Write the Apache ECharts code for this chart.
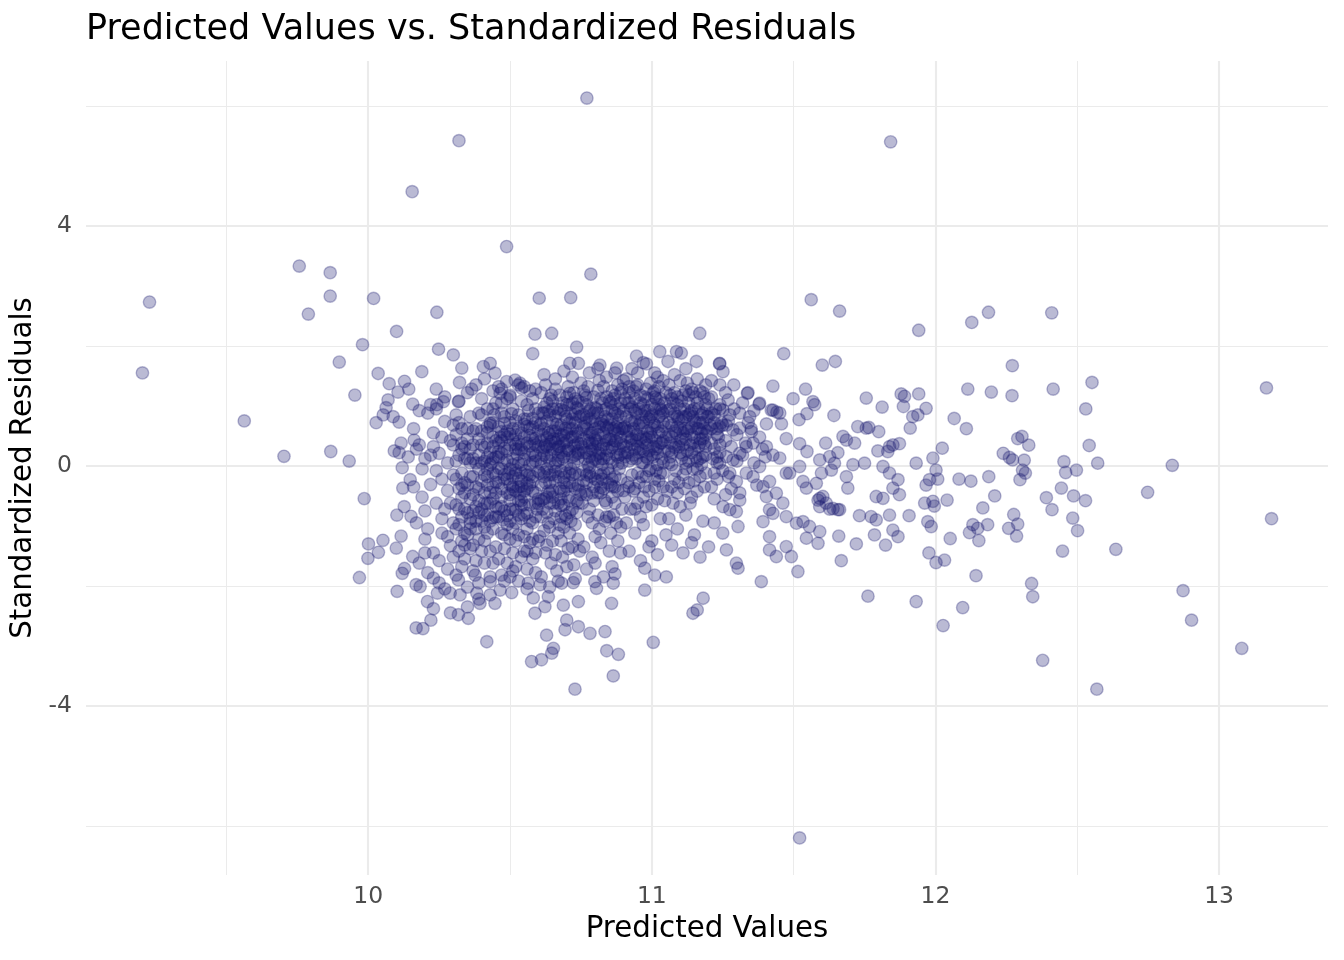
<!DOCTYPE html>
<html>
<head>
<meta charset="utf-8">
<script src="https://cdn.jsdelivr.net/npm/echarts@6/dist/echarts.min.js"></script>
<style>html,body{margin:0;padding:0;background:#fff;}#chart{width:1344px;height:960px;}</style>
</head>
<body>
<div id="chart"></div>
<script>
// ---- tick values ----
const xMajorTicks = [10, 11, 12, 13];
const xMinorTicks = [9.5, 10.5, 11.5, 12.5];
const yMajorTicks = [-4, 0, 4];
const yMinorTicks = [-6, -2, 2, 6];

// ---- data: [predicted value, standardized residual] ----
const farPoints = [[9.204,1.55],[9.229,2.73],[9.563,0.75],[9.703,0.16],[9.757,3.33],[9.789,2.53],[9.866,3.22],[9.866,2.83],[9.868,0.24],[9.898,1.73],[9.933,0.08],[9.953,1.18],[9.969,-1.86],[9.986,-0.545],[9.98,2.02],[10.001,-1.30],[9.999,-1.54],[10.019,2.79],[10.32,5.42],[10.771,6.13],[10.155,4.57],[10.488,3.655],[10.785,3.195],[10.603,2.795],[10.714,2.805],[11.842,5.40],[11.521,-6.2],[11.562,2.77],[11.662,2.58],[11.941,2.26]];

const leftFringe = [[10.10,2.24],[10.035,1.54],[10.074,1.37],[10.128,1.41],[10.105,1.23],[10.143,1.28],[10.07,1.1],[10.063,0.97],[10.053,0.85],[10.088,0.82],[10.109,0.73],[10.028,0.72],[10.157,1.03],[10.116,0.38],[10.092,0.25],[10.109,0.22],[10.141,0.15],[10.12,-0.03],[10.162,0.43],[10.148,-0.23],[10.122,-0.37],[10.127,-0.68],[10.101,-0.82],[10.151,-0.84],[10.116,-1.17],[10.052,-1.24],[10.036,-1.44],[10.099,-1.37],[10.157,-1.51],[10.128,-1.71],[10.12,-1.79],[10.102,-2.09],[10.169,-1.98],[10.169,-2.7]];

const upperTail = [[10.242,2.56],[10.588,2.195],[10.647,2.21],[11.169,2.21],[10.248,1.945],[10.3,1.85],[10.58,1.87],[10.735,1.98],[10.946,1.83],[11.028,1.905],[11.087,1.905],[11.104,1.88],[11.157,1.74],[11.239,1.70],[11.057,1.74],[10.33,1.63],[10.406,1.655],[10.43,1.71],[10.711,1.71],[10.741,1.71],[10.817,1.68],[10.876,1.63],[10.981,1.70],[10.189,1.57],[10.447,1.545],[10.365,1.28],[10.322,1.39],[10.488,1.405],[10.518,1.43],[10.535,1.38],[10.541,1.295],[10.465,1.21],[10.5,1.155],[10.242,1.02],[10.265,1.07],[10.318,1.07]];

const lowerTail = [[10.193,-2.71],[10.221,-2.57],[10.209,-2.26],[10.183,-2.01],[10.244,-2.12],[10.23,-1.87],[10.289,-2.12],[10.324,-2.15],[10.318,-2.48],[10.353,-2.54],[10.383,-2.12],[10.394,-2.29],[10.447,-2.29],[10.418,-2.93],[10.318,-1.90],[10.377,-1.82],[10.43,-1.93],[10.465,-2.07],[10.506,-2.11],[10.564,-1.955],[10.606,-1.98],[10.582,-2.2],[10.588,-2.455],[10.623,-2.345],[10.635,-2.18],[10.688,-2.32],[10.741,-2.26],[10.629,-2.82],[10.653,-3.04],[10.647,-3.12],[10.576,-3.26],[10.611,-3.23],[10.7,-2.57],[10.694,-2.73],[10.741,-2.68],[10.782,-2.79],[10.835,-2.76],[10.841,-3.08],[10.882,-3.14],[10.864,-3.5],[10.729,-3.72],[10.682,-1.955],[10.723,-1.945],[10.805,-2.04],[10.799,-1.93],[10.858,-2.29],[10.864,-1.955],[10.87,-1.8],[10.975,-2.07],[11.005,-2.94],[11.145,-2.455],[11.16,-2.40],[11.181,-2.205],[11.01,-1.82],[11.051,-1.85],[10.975,-1.705]];

const bandA = [[10.16,0.62],[10.18,0.35],[10.21,0.88],[10.23,0.55],[10.25,0.21],[10.27,0.74],[10.19,-0.05],[10.22,-0.31],[10.24,-0.62],[10.26,-0.88],[10.28,-0.41],[10.17,-0.95],[10.2,-1.22],[10.23,-1.45],[10.26,-1.12],[10.29,-1.33],[10.18,-1.62],[10.21,-1.78],[10.25,-1.95],[10.28,-1.72],[10.3,-0.15],[10.29,0.42],[10.27,1.15],[10.24,1.28],[10.2,0.12],[10.22,1.02],[10.26,-0.22],[10.28,0.05],[10.17,0.28],[10.19,-0.52],[10.25,-1.58],[10.27,-2.05],[10.23,-2.38],[10.29,-2.45],[10.2,-0.75],[10.24,0.95],[10.3,0.68],[10.3,-0.95],[10.28,-1.18],[10.22,0.18],[10.26,0.48],[10.21,-1.05],[10.18,0.92],[10.29,-0.62],[10.24,-0.08],[10.3,-1.52],[10.27,-0.72],[10.23,0.32],[10.2,-1.45],[10.16,-0.35]];

const bandB = [[10.31,0.52],[10.32,0.18],[10.33,-0.12],[10.34,-0.45],[10.35,-0.78],[10.36,-1.05],[10.37,-1.32],[10.38,-0.92],[10.39,-0.58],[10.4,-0.25],[10.41,0.08],[10.42,0.38],[10.43,0.71],[10.44,0.95],[10.31,-0.65],[10.32,-0.98],[10.33,-1.25],[10.34,-1.55],[10.35,-0.32],[10.36,0.05],[10.37,0.35],[10.38,0.62],[10.39,0.88],[10.4,1.12],[10.41,-0.82],[10.42,-1.12],[10.43,-1.42],[10.44,-0.35],[10.45,-0.68],[10.31,0.85],[10.32,1.08],[10.33,0.38],[10.34,0.12],[10.35,0.62],[10.36,-0.55],[10.37,-0.18],[10.38,-1.58],[10.39,-1.22],[10.4,-0.72],[10.41,-0.45],[10.42,-0.05],[10.43,0.22],[10.44,0.48],[10.45,0.15],[10.31,-1.82],[10.33,-1.68],[10.35,-2.02],[10.37,-1.75],[10.39,-1.95],[10.41,-1.62],[10.43,-1.85],[10.45,-1.35],[10.32,-0.38],[10.34,-0.72],[10.36,-0.95],[10.38,-0.35],[10.4,0.35],[10.42,0.65],[10.44,-0.12],[10.35,1.22],[10.38,1.35],[10.41,1.45],[10.44,1.25],[10.43,-0.92],[10.41,-1.25],[10.39,-0.05],[10.37,-0.75],[10.35,-1.15],[10.33,-0.52],[10.31,-0.22],[10.34,0.32],[10.36,0.82],[10.4,-1.42],[10.42,-0.62],[10.44,-1.05],[10.45,-0.45],[10.43,0.02],[10.39,0.18],[10.38,-1.05],[10.36,-1.38],[10.34,-1.12],[10.32,-1.42],[10.42,0.95],[10.44,0.72],[10.4,0.58],[10.45,1.05],[10.39,-2.22],[10.35,-2.35],[10.43,-2.15],[10.41,-0.15],[10.37,0.12],[10.33,0.62],[10.45,-0.85],[10.44,-1.62],[10.42,-0.32],[10.4,-0.92]];

const bandC = [[10.46,1.32],[10.47,1.05],[10.48,0.82],[10.49,0.58],[10.5,0.35],[10.51,0.12],[10.52,-0.12],[10.53,-0.35],[10.54,-0.58],[10.55,-0.82],[10.56,-1.05],[10.57,-1.28],[10.58,-0.95],[10.59,-0.62],[10.46,-0.28],[10.47,-0.52],[10.48,-0.75],[10.49,-0.98],[10.5,-1.22],[10.51,-1.45],[10.52,-1.68],[10.53,-1.15],[10.54,-0.88],[10.55,-0.42],[10.56,-0.15],[10.57,0.18],[10.58,0.45],[10.59,0.72],[10.46,0.15],[10.47,0.42],[10.48,0.05],[10.49,-0.22],[10.5,-0.48],[10.51,-0.72],[10.52,-0.95],[10.53,0.28],[10.54,0.55],[10.55,0.78],[10.56,1.02],[10.57,1.25],[10.58,1.12],[10.59,0.95],[10.46,-0.85],[10.47,-1.12],[10.48,-1.38],[10.49,-1.62],[10.5,-1.85],[10.51,-0.35],[10.52,0.52],[10.53,0.85],[10.54,1.08],[10.55,0.22],[10.56,-0.38],[10.57,-0.65],[10.58,-0.18],[10.59,0.08],[10.46,0.65],[10.47,0.88],[10.48,-0.15],[10.49,0.25],[10.5,0.72],[10.51,0.95],[10.52,0.28],[10.53,-0.58],[10.54,-0.25],[10.55,-1.18],[10.56,-1.42],[10.57,-0.92],[10.58,-1.22],[10.59,-1.45],[10.46,-1.55],[10.48,-1.92],[10.5,-0.05],[10.52,-0.42],[10.54,0.02],[10.56,0.38],[10.58,0.65],[10.6,0.32],[10.47,-0.05],[10.49,0.48],[10.51,0.62],[10.53,0.05],[10.55,-0.65],[10.57,-0.32],[10.59,-0.85],[10.46,0.38],[10.48,0.52],[10.5,-0.72],[10.52,-1.25],[10.54,-1.52],[10.56,-1.72],[10.58,-1.55],[10.6,-1.25],[10.47,-0.68],[10.49,-0.45],[10.51,-0.18],[10.53,-0.82],[10.55,0.48],[10.57,0.62],[10.59,0.35],[10.47,1.28],[10.5,1.18],[10.53,1.35],[10.56,0.78],[10.59,1.28],[10.48,-1.15],[10.51,-1.05],[10.55,-1.42],[10.58,-0.42],[10.6,-0.55],[10.52,0.75],[10.54,0.35],[10.57,0.02],[10.6,0.88],[10.55,1.32],[10.49,1.12],[10.51,-1.75],[10.53,-1.92],[10.56,-2.05],[10.59,-1.78],[10.47,-1.82],[10.5,-0.92],[10.54,-0.12],[10.58,0.22]];

const bandD = [[10.61,1.22],[10.62,0.98],[10.63,0.75],[10.64,0.52],[10.65,0.28],[10.66,0.05],[10.67,-0.18],[10.68,-0.42],[10.69,-0.65],[10.7,-0.88],[10.71,-1.12],[10.72,-1.35],[10.73,-0.98],[10.74,-0.62],[10.61,-0.32],[10.62,-0.55],[10.63,-0.78],[10.64,-1.02],[10.65,-1.25],[10.66,-1.48],[10.67,-1.12],[10.68,-0.85],[10.69,-0.28],[10.7,0.02],[10.71,0.25],[10.72,0.48],[10.73,0.72],[10.74,0.95],[10.61,0.42],[10.62,0.18],[10.63,-0.05],[10.64,-0.28],[10.65,-0.52],[10.66,-0.75],[10.67,0.45],[10.68,0.68],[10.69,0.92],[10.7,1.15],[10.71,1.02],[10.72,0.78],[10.73,0.35],[10.74,0.12],[10.61,-0.85],[10.62,-1.08],[10.63,-1.32],[10.64,0.85],[10.65,1.08],[10.66,1.28],[10.67,0.88],[10.68,0.22],[10.69,0.38],[10.7,-0.35],[10.71,-0.58],[10.72,-0.15],[10.73,-0.38],[10.74,-1.22],[10.61,0.12],[10.62,0.62],[10.63,0.32],[10.64,0.08],[10.65,-0.15],[10.66,0.58],[10.67,-0.62],[10.68,-1.25],[10.69,-1.02],[10.7,0.55],[10.71,0.72],[10.72,0.15],[10.73,-0.12],[10.74,0.38],[10.61,-0.58],[10.62,-0.18],[10.63,1.05],[10.64,-0.62],[10.65,0.72],[10.66,-0.25],[10.67,0.18],[10.68,-0.08],[10.69,0.15],[10.7,0.78],[10.71,-0.28],[10.72,-0.72],[10.73,1.12],[10.74,-0.32],[10.615,0.88],[10.635,-0.42],[10.655,0.45],[10.675,-0.38],[10.695,0.62],[10.715,0.48],[10.735,-0.58],[10.605,-1.18],[10.625,-1.45],[10.645,-1.62],[10.665,-1.75],[10.685,-1.52],[10.705,-1.38],[10.725,-1.65],[10.745,-1.42],[10.615,0.25],[10.635,0.55],[10.655,-0.02],[10.675,0.32],[10.695,-0.12],[10.715,-0.05],[10.735,0.58],[10.745,0.82],[10.605,0.68],[10.625,1.35],[10.645,1.18],[10.665,0.95],[10.685,1.05],[10.705,1.32],[10.725,1.22],[10.615,-0.72],[10.635,-0.95],[10.655,-0.88],[10.675,-0.98],[10.695,-0.82],[10.715,-0.92],[10.735,-0.78],[10.745,-0.15],[10.605,-0.12],[10.625,0.35],[10.645,0.18],[10.665,0.28],[10.685,0.42],[10.705,0.28],[10.725,0.05],[10.61,-1.85],[10.64,-2.02],[10.67,-1.92],[10.7,-1.68],[10.73,-1.88],[10.62,1.52],[10.66,1.45],[10.69,1.58],[10.72,1.48],[10.75,1.38],[10.68,-0.55],[10.71,-0.78],[10.64,-0.45],[10.74,0.25]];

const bandE = [[10.76,1.25],[10.77,1.02],[10.78,0.78],[10.79,0.55],[10.8,0.32],[10.81,0.08],[10.82,-0.15],[10.83,-0.38],[10.84,-0.62],[10.85,-0.85],[10.86,-0.52],[10.87,-0.18],[10.88,0.15],[10.89,0.48],[10.76,-0.25],[10.77,-0.48],[10.78,-0.72],[10.79,-0.95],[10.8,-1.18],[10.81,-0.82],[10.82,-0.45],[10.83,0.12],[10.84,0.42],[10.85,0.68],[10.86,0.92],[10.87,1.18],[10.88,1.35],[10.89,1.05],[10.76,0.45],[10.77,0.22],[10.78,-0.02],[10.79,0.28],[10.8,0.62],[10.81,0.88],[10.82,1.12],[10.83,1.32],[10.84,0.95],[10.85,0.25],[10.86,0.05],[10.87,0.42],[10.88,0.72],[10.89,0.82],[10.76,0.85],[10.77,0.62],[10.78,0.38],[10.79,0.08],[10.8,-0.22],[10.81,-0.45],[10.82,0.28],[10.83,0.55],[10.84,0.18],[10.85,-0.12],[10.86,-0.35],[10.87,-0.62],[10.88,-0.42],[10.89,-0.22],[10.755,-0.62],[10.775,-0.85],[10.795,-0.58],[10.815,-1.05],[10.835,-0.92],[10.855,-1.12],[10.875,-0.95],[10.895,-0.72],[10.765,0.12],[10.785,0.55],[10.805,0.95],[10.825,0.75],[10.845,0.62],[10.865,0.35],[10.885,0.28],[10.755,1.05],[10.775,1.32],[10.795,1.15],[10.815,1.42],[10.835,0.82],[10.855,1.05],[10.875,0.65],[10.895,0.05],[10.765,-0.42],[10.785,-0.18],[10.805,0.18],[10.825,-0.22],[10.845,-0.28],[10.865,0.62],[10.885,-0.05],[10.76,-1.35],[10.79,-1.52],[10.82,-1.28],[10.85,-1.42],[10.88,-1.25],[10.77,-1.72],[10.8,-1.62],[10.83,-1.85],[10.86,-1.68],[10.89,-1.45],[10.78,1.55],[10.81,1.62],[10.84,1.48],[10.87,1.55],[10.9,1.42],[10.765,0.72],[10.785,0.95],[10.805,0.42],[10.825,0.02],[10.845,-0.05],[10.865,-0.82],[10.885,0.95],[10.755,0.32],[10.775,0.02],[10.795,-0.35],[10.815,0.65],[10.835,-0.58],[10.855,0.45],[10.875,0.18],[10.895,0.62],[10.77,-0.28],[10.8,0.75],[10.83,0.35],[10.86,1.25],[10.89,-1.02],[10.78,0.15],[10.81,-0.25],[10.84,-0.85],[10.87,0.88],[10.9,0.35]];

const bandF = [[10.91,1.45],[10.92,1.22],[10.93,0.98],[10.94,0.75],[10.95,0.52],[10.96,0.28],[10.97,0.05],[10.98,-0.18],[10.99,-0.42],[11.0,-0.65],[11.01,-0.35],[11.02,0.02],[11.03,0.38],[11.04,0.72],[10.91,0.32],[10.92,0.08],[10.93,-0.15],[10.94,-0.38],[10.95,-0.62],[10.96,-0.85],[10.97,-0.52],[10.98,0.45],[10.99,0.78],[11.0,1.02],[11.01,1.25],[11.02,1.48],[11.03,1.12],[11.04,0.88],[10.91,0.82],[10.92,0.58],[10.93,0.35],[10.94,1.12],[10.95,1.35],[10.96,1.05],[10.97,0.72],[10.98,1.28],[10.99,0.25],[11.0,0.48],[11.01,0.68],[11.02,0.32],[11.03,-0.12],[11.04,-0.35],[10.905,-0.52],[10.925,-0.72],[10.945,0.12],[10.965,0.62],[10.985,0.92],[11.005,0.15],[11.025,0.82],[11.045,0.25],[10.915,1.05],[10.935,0.62],[10.955,0.95],[10.975,0.38],[10.995,-0.05],[11.015,0.42],[11.035,0.58],[10.905,0.15],[10.925,0.42],[10.945,0.88],[10.965,-0.18],[10.985,0.12],[11.005,0.72],[11.025,-0.25],[11.045,1.05],[10.915,-0.28],[10.935,-0.42],[10.955,0.22],[10.975,1.15],[10.995,0.55],[11.015,-0.08],[11.035,0.92],[10.91,-0.95],[10.94,-1.12],[10.97,-0.98],[11.0,-1.25],[11.03,-0.88],[10.92,-1.42],[10.96,-1.58],[10.99,-1.35],[11.02,-1.48],[11.05,-1.15],[10.93,1.62],[10.97,1.72],[11.01,1.55],[11.04,1.42],[10.95,1.55],[10.915,0.48],[10.935,0.18],[10.955,-0.28],[10.975,-0.35],[10.995,1.38],[11.015,1.12],[11.035,0.12],[11.045,-0.58],[10.905,0.65],[10.925,0.95],[10.945,0.42],[10.965,0.85],[10.985,0.58],[11.005,0.32],[11.025,0.55],[10.92,1.32],[10.96,0.45],[11.0,0.85],[11.04,0.05],[10.94,-0.72],[10.98,-0.68],[11.02,-0.55],[10.93,0.72],[10.97,0.25],[11.01,0.95]];

const bandG = [[11.06,1.35],[11.07,1.12],[11.08,0.88],[11.09,0.65],[11.1,0.42],[11.11,0.18],[11.12,-0.05],[11.13,-0.28],[11.14,-0.52],[11.15,-0.25],[11.16,0.08],[11.17,0.38],[11.18,0.72],[11.19,1.02],[11.06,0.25],[11.07,0.02],[11.08,-0.22],[11.09,-0.45],[11.1,-0.68],[11.11,0.55],[11.12,0.82],[11.13,1.05],[11.14,1.28],[11.15,0.95],[11.16,0.62],[11.17,1.25],[11.18,0.15],[11.19,-0.12],[11.06,0.72],[11.07,0.48],[11.08,1.22],[11.09,1.02],[11.1,0.95],[11.11,1.18],[11.12,0.45],[11.13,0.62],[11.14,0.22],[11.15,0.48],[11.16,-0.42],[11.17,-0.18],[11.18,0.45],[11.19,0.32],[11.055,-0.42],[11.075,-0.62],[11.095,0.32],[11.115,-0.38],[11.135,0.35],[11.155,0.72],[11.175,0.02],[11.195,0.58],[11.065,0.95],[11.085,0.55],[11.105,0.12],[11.125,0.25],[11.145,0.82],[11.165,0.32],[11.185,-0.35],[11.06,-0.88],[11.09,-1.05],[11.12,-0.82],[11.15,-1.15],[11.18,-0.92],[11.07,-1.32],[11.11,-1.45],[11.14,-1.28],[11.17,-1.52],[11.08,1.52],[11.12,1.62],[11.16,1.45],[11.19,1.35],[11.065,0.38],[11.085,-0.08],[11.105,0.75],[11.125,1.38],[11.145,-0.05],[11.165,0.95],[11.185,1.15],[11.075,0.82],[11.095,-0.28],[11.115,0.62],[11.135,-0.62],[11.155,0.15],[11.175,0.55],[11.195,0.82],[11.11,-0.15],[11.14,0.52],[11.07,0.22],[11.17,0.72],[11.1,1.42],[11.13,0.85]];

const bandH = [[11.21,1.15],[11.22,0.85],[11.23,0.52],[11.24,0.22],[11.25,-0.08],[11.26,0.42],[11.27,0.75],[11.28,0.32],[11.21,-0.35],[11.22,-0.55],[11.23,0.05],[11.24,0.95],[11.26,1.22],[11.28,-0.38],[11.3,0.52],[11.32,0.18],[11.34,0.72],[11.36,0.05],[11.38,0.48],[11.21,0.62],[11.22,0.28],[11.23,-0.22],[11.25,0.68],[11.27,-0.18],[11.29,0.95],[11.31,-0.45],[11.33,0.38],[11.35,0.62],[11.37,-0.32],[11.39,0.28],[11.21,1.42],[11.24,1.35],[11.22,-0.95],[11.25,-1.12],[11.2,-1.35],[11.26,-0.48],[11.3,0.08],[11.32,1.05],[11.36,0.92],[11.4,0.15]];

const coreLeft = [[10.41,0.31],[10.43,-0.44],[10.44,0.12],[10.46,-0.71],[10.47,0.57],[10.48,-0.22],[10.49,0.09],[10.5,-0.58],[10.51,0.44],[10.52,-0.07],[10.53,0.63],[10.54,-0.34],[10.55,0.11],[10.56,-0.79],[10.57,0.51],[10.58,-0.26],[10.59,0.17],[10.6,-0.63],[10.42,-0.18],[10.45,0.42],[10.48,0.29],[10.51,-0.39],[10.54,0.27],[10.57,-0.15],[10.6,0.58],[10.43,0.68],[10.46,-0.04],[10.49,-0.83],[10.52,0.36],[10.55,-0.52],[10.58,0.79],[10.41,-0.62],[10.44,-0.86],[10.47,0.21],[10.5,0.53],[10.53,-0.21],[10.56,0.66],[10.59,-0.45],[10.45,-0.27],[10.48,0.71],[10.51,0.02],[10.54,-0.66],[10.57,0.33],[10.6,-0.09],[10.42,0.55],[10.46,0.24],[10.5,-0.31],[10.53,0.41],[10.56,-0.29],[10.59,0.46],[10.44,-0.55],[10.47,-0.38],[10.52,-0.74],[10.55,0.69],[10.58,0.06],[10.435,0.05],[10.465,0.48],[10.495,-0.12],[10.525,0.19],[10.555,-0.08],[10.585,0.38],[10.445,0.85],[10.475,-0.9],[10.505,0.87],[10.535,-0.46],[10.565,0.92],[10.595,-0.72],[10.31,0.08],[10.32,-0.72],[10.33,0.28],[10.34,-0.28],[10.35,0.45],[10.36,-0.88],[10.37,0.58],[10.38,0.05],[10.39,-0.78],[10.4,0.85],[10.31,-1.05],[10.33,-0.85],[10.35,0.12],[10.37,-0.48],[10.39,0.45],[10.41,-1.02],[10.43,-0.62],[10.32,0.72],[10.34,-1.32],[10.36,0.28],[10.38,-0.68],[10.4,0.05],[10.42,-0.82],[10.44,0.32],[10.3,0.35],[10.33,-0.32],[10.36,-0.18],[10.39,-0.38],[10.42,0.15],[10.45,-0.15]];

const coreMid = [[10.61,0.71],[10.62,-0.11],[10.63,0.47],[10.64,1.12],[10.65,-0.41],[10.66,0.83],[10.67,0.09],[10.68,0.94],[10.69,-0.19],[10.7,0.41],[10.71,1.21],[10.72,-0.33],[10.73,0.86],[10.74,0.21],[10.75,-0.48],[10.76,0.66],[10.77,1.14],[10.78,-0.12],[10.79,0.74],[10.8,0.11],[10.81,1.26],[10.82,-0.36],[10.83,0.93],[10.84,0.29],[10.85,1.08],[10.86,-0.22],[10.87,0.58],[10.88,0.03],[10.89,1.22],[10.9,-0.41],[10.61,0.03],[10.62,0.88],[10.63,-0.52],[10.64,0.36],[10.65,0.95],[10.66,-0.09],[10.67,0.63],[10.68,-0.66],[10.69,0.51],[10.7,1.02],[10.71,-0.12],[10.72,0.62],[10.73,0.18],[10.74,1.08],[10.75,0.37],[10.76,-0.08],[10.77,0.81],[10.78,0.52],[10.79,-0.45],[10.8,0.97],[10.81,0.36],[10.82,0.71],[10.83,-0.12],[10.84,1.15],[10.85,0.45],[10.86,0.78],[10.87,-0.35],[10.88,0.55],[10.89,0.19],[10.9,0.92],[10.615,0.52],[10.625,-0.28],[10.635,0.91],[10.645,0.41],[10.655,-0.62],[10.665,0.69],[10.675,1.18],[10.685,0.12],[10.695,0.82],[10.705,-0.52],[10.715,0.88],[10.725,0.33],[10.735,0.97],[10.745,-0.41],[10.755,0.61],[10.765,1.18],[10.775,0.42],[10.785,0.25],[10.795,0.88],[10.805,-0.12],[10.815,0.21],[10.825,1.05],[10.835,0.48],[10.845,0.78],[10.855,-0.32],[10.865,1.12],[10.875,0.41],[10.885,0.62],[10.895,1.28],[10.905,0.22],[10.62,0.31],[10.64,-0.15],[10.66,0.39],[10.68,0.52],[10.7,0.25],[10.72,1.05],[10.74,0.55],[10.76,0.22],[10.78,0.92],[10.8,0.45],[10.82,0.12],[10.84,0.65],[10.86,0.31],[10.88,0.85],[10.9,0.62],[10.63,0.15],[10.67,0.32],[10.71,0.62],[10.75,0.83],[10.79,0.38],[10.83,0.68],[10.87,1.02],[10.65,0.58],[10.69,-0.42],[10.73,0.49],[10.77,-0.15],[10.81,0.52],[10.85,0.12],[10.89,0.38]];

const coreRight = [[10.91,0.58],[10.92,1.05],[10.93,0.12],[10.94,0.92],[10.95,0.33],[10.96,1.18],[10.97,0.48],[10.98,0.82],[10.99,-0.08],[11.0,0.62],[11.01,1.15],[11.02,0.21],[11.03,0.85],[11.04,0.42],[11.05,1.22],[11.06,0.05],[11.07,0.68],[11.08,0.31],[11.09,1.15],[11.1,0.22],[11.11,0.82],[11.12,0.05],[11.13,1.18],[11.14,0.65],[11.15,0.28],[11.16,1.05],[11.17,0.12],[11.18,0.88],[11.19,0.52],[11.2,1.12],[11.21,0.38],[11.22,0.72],[11.23,0.15],[11.24,1.02],[10.915,0.22],[10.925,0.75],[10.935,1.25],[10.945,0.52],[10.955,0.68],[10.965,0.05],[10.975,0.92],[10.985,0.35],[10.995,0.82],[11.005,1.22],[11.015,0.28],[11.025,1.02],[11.035,0.38],[11.045,0.65],[11.055,0.92],[11.065,0.15],[11.075,1.05],[11.085,0.35],[11.095,0.78],[11.105,0.45],[11.115,0.95],[11.125,0.58],[11.135,0.88],[11.145,0.38],[11.155,1.15],[11.165,0.62],[11.175,0.85],[11.185,0.38],[11.195,0.95],[11.205,0.68],[11.215,0.12],[11.225,0.95],[11.235,0.48],[11.245,0.72],[10.92,-0.35],[10.95,-0.12],[10.98,0.15],[11.01,-0.22],[11.04,-0.12],[11.07,-0.35],[11.1,0.62],[11.13,0.08],[11.16,-0.05],[11.19,0.18],[11.22,-0.12],[10.93,0.45],[10.96,0.72],[10.99,0.48],[11.02,0.65],[11.05,0.48],[11.08,0.58],[11.11,0.35],[11.14,0.92],[11.17,0.45],[11.2,0.82],[11.23,0.62],[10.94,0.28],[10.97,1.02],[11.0,0.18],[11.03,0.95],[11.06,0.52],[11.09,0.82],[11.12,1.25],[11.15,0.75],[11.18,1.22],[11.21,0.88],[11.24,0.35],[10.905,1.12],[10.945,1.32],[10.985,1.12],[11.025,1.32],[11.065,1.18],[11.105,1.08],[11.145,1.22],[11.185,0.62]];

const midRight = [[11.289,1.35],[11.339,1.22],[11.380,1.045],[11.427,0.93],[11.451,0.88],[11.269,1.10],[11.251,0.93],[11.275,0.85],[11.31,0.88],[11.345,0.82],[11.239,0.655],[11.263,0.68],[11.286,0.60],[11.31,0.63],[11.351,0.57],[11.357,0.38],[11.333,0.32],[11.404,0.32],[11.427,0.18],[11.451,0.13],[11.38,-0.01],[11.415,-0.26],[11.31,0.21],[11.286,0.10],[11.263,0.155],[11.239,0.045],[11.275,-0.12],[11.298,-0.26],[11.333,-0.12],[11.357,-0.18],[11.474,-0.12],[11.521,-0.01],[11.533,-0.26],[11.545,-0.37],[11.486,-0.12],[11.392,-0.345],[11.404,-0.51],[11.439,-0.455],[11.462,-0.62],[11.415,-0.73],[11.392,-0.93],[11.427,-0.79],[11.474,-0.845],[11.304,-1.01],[11.263,-1.40],[11.298,-1.62],[11.304,-1.705],[11.386,-1.93],[11.415,-1.18],[11.415,-1.40],[11.439,-1.51],[11.474,-1.345],[11.492,-1.51],[11.515,-1.76],[11.51,-0.955],[11.533,-0.93],[11.556,-1.01],[11.545,-1.205],[11.586,-1.29],[11.592,-1.095],[11.627,-0.72],[11.662,-0.73],[11.586,-0.57],[11.603,-0.51],[11.592,-0.68],[11.251,-0.68],[11.275,-0.73],[11.298,-0.76],[11.31,-0.57],[11.239,1.71],[11.251,1.57]];

const rightCluster = [[11.465,1.87],[11.601,1.68],[11.647,1.74],[11.427,1.33],[11.542,1.28],[11.498,1.12],[11.568,1.07],[11.574,1.02],[11.547,0.87],[11.519,0.77],[11.642,0.84],[11.337,1.21],[11.378,1.03],[11.421,0.93],[11.441,0.895],[11.457,0.70],[11.404,0.70],[11.474,0.455],[11.521,0.37],[11.547,0.24],[11.613,0.38],[11.656,0.22],[11.674,0.49],[11.686,0.43],[11.715,0.38],[11.726,0.655],[11.756,0.63],[11.765,0.64],[11.8,0.57],[11.756,1.13],[11.812,0.98],[11.879,1.2],[11.891,1.16],[11.941,1.2],[11.887,0.99],[11.967,0.96],[11.92,0.82],[11.938,0.85],[11.911,0.63],[11.797,0.25],[11.838,0.32],[11.85,0.35],[11.873,0.37],[11.832,0.24],[11.932,0.045],[11.991,0.13],[12.002,-0.07],[12.024,0.295],[11.979,-0.23],[11.967,-0.32],[11.592,0.10],[11.627,0.155],[11.644,0.045],[11.633,-0.07],[11.598,-0.12],[11.58,-0.29],[11.592,-0.54],[11.615,-0.62],[11.639,-0.71],[11.656,-0.73],[11.686,-0.18],[11.691,-0.37],[11.709,0.02],[11.75,0.045],[11.815,-0.01],[11.838,-0.12],[11.868,-0.23],[11.85,-0.37],[11.791,-0.51],[11.815,-0.54],[11.873,-0.48],[11.732,-0.83],[11.773,-0.845],[11.791,-0.9],[11.838,-0.82],[11.785,-1.15],[11.824,-1.32],[11.85,-1.07],[11.868,-1.18],[11.907,-0.83],[11.962,-0.62],[11.991,-0.59],[11.973,-0.93],[11.985,-1.01],[11.977,-1.45],[12.002,-1.61],[12.032,-1.57],[11.932,-2.26],[11.762,-2.17],[11.668,-1.58],[11.721,-1.30],[11.659,-1.17]];

const farRight = [[12.187,2.56],[12.128,2.39],[12.41,2.55],[12.271,1.67],[12.114,1.28],[12.197,1.23],[12.27,1.17],[12.415,1.28],[12.552,1.39],[12.53,0.95],[13.167,1.30],[12.066,0.79],[12.109,0.62],[12.29,0.455],[12.305,0.49],[12.329,0.345],[12.239,0.21],[12.261,0.14],[12.272,0.10],[12.313,0.095],[12.008,-0.22],[12.307,-0.07],[12.317,-0.12],[12.298,-0.23],[12.453,0.07],[12.459,-0.11],[12.497,-0.07],[12.572,0.045],[12.835,0.01],[12.542,0.34],[12.083,-0.22],[12.125,-0.255],[12.188,-0.18],[12.209,-0.50],[12.041,-0.57],[11.996,-0.67],[12.167,-0.70],[12.391,-0.53],[12.411,-0.73],[12.444,-0.37],[12.487,-0.50],[12.529,-0.58],[12.748,-0.44],[12.276,-0.81],[12.29,-0.97],[12.258,-1.04],[12.286,-1.17],[12.132,-0.98],[12.149,-1.04],[12.12,-1.11],[12.153,-1.245],[12.184,-0.98],[12.484,-0.87],[12.501,-1.08],[13.185,-0.88],[12.052,-1.21],[12.448,-1.42],[12.636,-1.39],[12.143,-1.83],[12.339,-1.96],[12.343,-2.18],[12.096,-2.36],[12.027,-2.66],[12.873,-2.08],[12.903,-2.57],[12.378,-3.24],[13.08,-3.04],[12.569,-3.72]];

const allPoints = [].concat(farPoints, leftFringe, upperTail, lowerTail, bandA, bandB, bandC, bandD, bandE, bandF, bandG, bandH, coreLeft, coreMid, coreRight, midRight, rightCluster, farRight);

const FONT = 'DejaVu Sans';
const xMin = 9.005, xMax = 13.384, yMin = -6.817, yMax = 6.747;

const chart = echarts.init(document.getElementById('chart'));
chart.setOption({
  animation: false,
  backgroundColor: '#ffffff',
  title: {
    text: 'Predicted Values vs. Standardized Residuals',
    left: 86, top: 12, padding: 0,
    textStyle: { fontFamily: FONT, fontSize: 35, fontWeight: 'normal', color: '#000000' }
  },
  grid: { left: 86, right: 16, top: 61, bottom: 85 },
  xAxis: [
    {
      type: 'value', min: xMin, max: xMax, position: 'bottom',
      name: 'Predicted Values', nameLocation: 'middle', nameGap: 40,
      nameTextStyle: { fontFamily: FONT, fontSize: 29.3, color: '#000000' },
      axisLine: { show: false },
      axisTick: { show: false, customValues: xMajorTicks },
      axisLabel: { customValues: xMajorTicks, color: '#4D4D4D', fontFamily: FONT, fontSize: 23.5, margin: 10, formatter: v => String(v) },
      splitLine: { show: true, lineStyle: { color: '#EBEBEB', width: 2.1 } }
    },
    {
      type: 'value', min: xMin, max: xMax, position: 'top',
      axisLine: { show: false },
      axisTick: { show: false, customValues: xMinorTicks },
      axisLabel: { show: false, customValues: xMinorTicks },
      splitLine: { show: true, lineStyle: { color: '#EBEBEB', width: 1.05 } }
    }
  ],
  yAxis: [
    {
      type: 'value', min: yMin, max: yMax, position: 'left',
      name: 'Standardized Residuals', nameLocation: 'middle', nameGap: 42,
      nameTextStyle: { fontFamily: FONT, fontSize: 29.3, color: '#000000' },
      axisLine: { show: false },
      axisTick: { show: false, customValues: yMajorTicks },
      axisLabel: { customValues: yMajorTicks, color: '#4D4D4D', fontFamily: FONT, fontSize: 23.5, margin: 14, formatter: v => String(v) },
      splitLine: { show: true, lineStyle: { color: '#EBEBEB', width: 2.1 } }
    },
    {
      type: 'value', min: yMin, max: yMax, position: 'right',
      axisLine: { show: false },
      axisTick: { show: false, customValues: yMinorTicks },
      axisLabel: { show: false, customValues: yMinorTicks },
      splitLine: { show: true, lineStyle: { color: '#EBEBEB', width: 1.05 } }
    }
  ],
  series: [{
    type: 'scatter',
    xAxisIndex: 0, yAxisIndex: 0,
    data: allPoints,
    symbol: 'circle',
    symbolSize: 12.4,
    itemStyle: { color: 'rgba(25,25,112,0.3)', borderColor: 'rgba(25,25,112,0.3)', borderWidth: 1.4, opacity: 1 },
    emphasis: { disabled: true },
    large: false,
    largeThreshold: 100000,
    progressive: 0
  }]
});
</script>
</body>
</html>
